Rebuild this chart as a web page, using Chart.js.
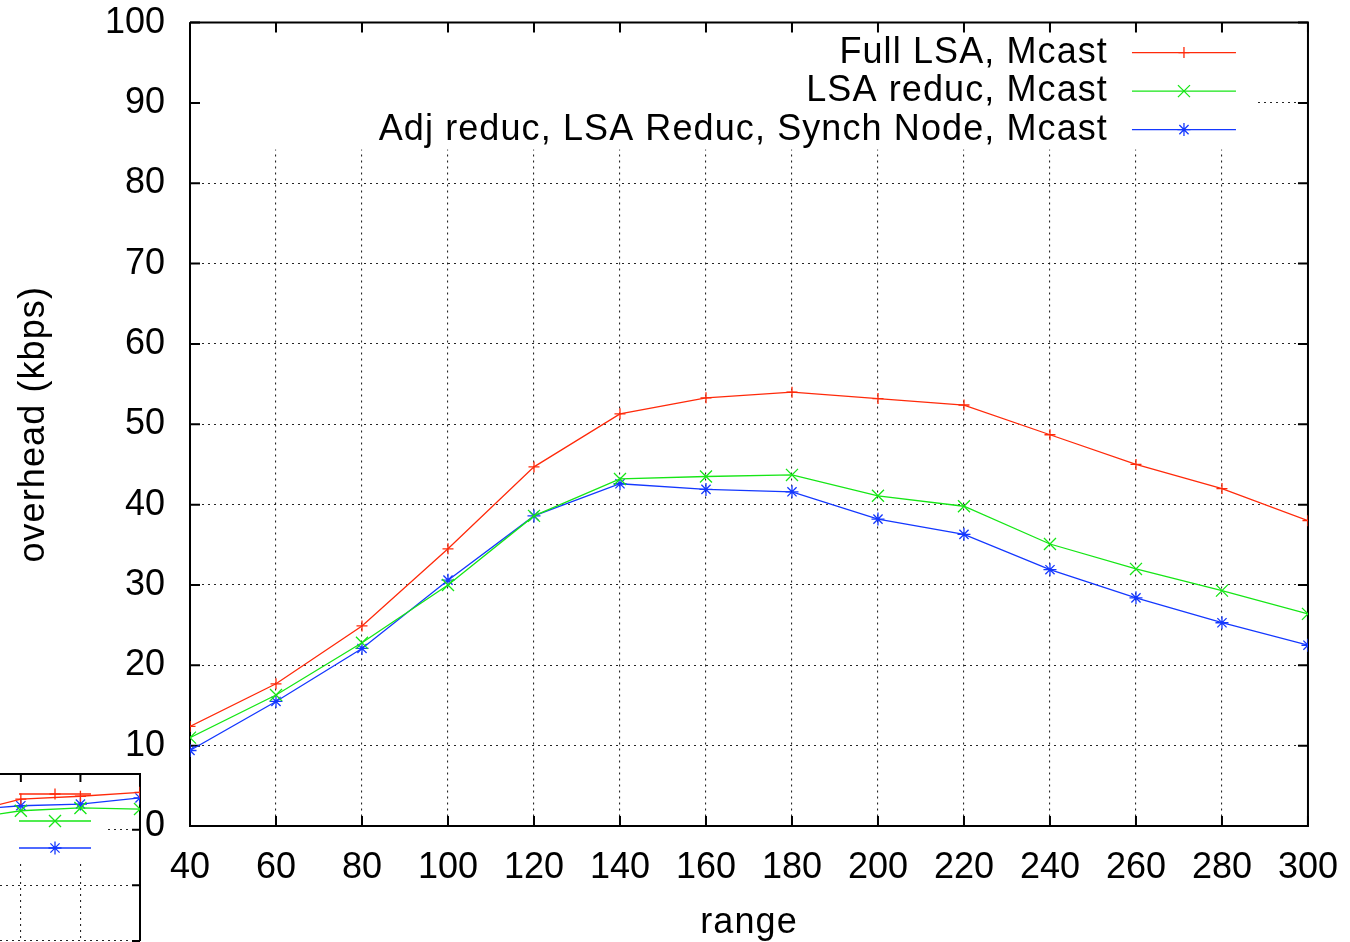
<!DOCTYPE html>
<html>
<head>
<meta charset="utf-8">
<script src="https://cdn.jsdelivr.net/npm/chart.js@4.4.1/dist/chart.umd.min.js"></script>
<style>
  html, body { margin: 0; padding: 0; background: #fff; }
  #wrap { position: relative; width: 1350px; height: 942px; overflow: hidden; }
  #main { position: absolute; left: 0; top: -24px; }
  #inset { position: absolute; left: 0; top: 772px; background: #fff; }
</style>
</head>
<body>
<div id="wrap">
  <canvas id="main" width="1358" height="966"></canvas>
  <canvas id="inset" width="142" height="170"></canvas>
</div>
<script>
// ---- main chart data ----
const rangeValues = [40, 60, 80, 100, 120, 140, 160, 180, 200, 220, 240, 260, 280, 300];
const fullLsaMcast = [12.4, 17.7, 24.9, 34.5, 44.7, 51.3, 53.3, 54.0, 53.2, 52.4, 48.7, 45.0, 42.0, 38.0];
const lsaReducMcast = [11.0, 16.3, 22.8, 30.0, 38.6, 43.2, 43.5, 43.7, 41.1, 39.8, 35.1, 32.0, 29.3, 26.4];
const adjReducMcast = [9.4, 15.5, 22.1, 30.6, 38.6, 42.6, 41.9, 41.6, 38.2, 36.3, 31.9, 28.4, 25.3, 22.5];
const seriesLabels = ['Full LSA, Mcast', 'LSA reduc, Mcast', 'Adj reduc, LSA Reduc, Synch Node, Mcast'];
const xTitle = 'range';
const yTitle = 'overhead (kbps)';

// ---- inset (cropped fragment of another plot, lower left) data ----
const insetX = [0, 1, 2, 3];
const insetRed = [22.8, 25.5, 26.0, 26.7];
const insetGreen = [21.8, 23.4, 23.9, 23.7];
const insetBlue = [23.5, 24.3, 24.6, 25.7];

const RED = '#ff2a0a', GREEN = '#16e616', BLUE = '#1438ff';
const FONT = "'Liberation Sans', Arial, Helvetica, sans-serif";
const FSIZE = 36;

function pts(xs, ys) { return xs.map((x, i) => ({ x: x, y: ys[i] })); }

function ds(label, data, color, style, radius) {
  return {
    label: label, data: data, borderColor: color, backgroundColor: color,
    borderWidth: 1.3, pointStyle: style, pointRadius: radius, pointBorderWidth: 1.3,
    pointHoverRadius: radius, tension: 0, fill: false
  };
}

// Plugin: opaque key area, frame, inward tics, key, axis titles
function gnuplotDecor(opts) {
  return {
    id: 'gnuplotDecor',
    beforeDatasetsDraw(chart) {
      const ctx = chart.ctx, a = chart.chartArea;
      const xs = chart.scales.x, ys = chart.scales.y;
      ctx.save();
      ctx.fillStyle = '#fff';
      const m = opts.mask(a);
      ctx.fillRect(m.x1, m.y1, m.x2 - m.x1, m.y2 - m.y1);
      ctx.strokeStyle = '#000';
      ctx.lineWidth = opts.ticW;
      ctx.beginPath();
      xs.ticks.forEach(t => {
        const px = xs.getPixelForValue(t.value);
        if (opts.sides.bottom) { ctx.moveTo(px, a.bottom); ctx.lineTo(px, a.bottom - opts.ticLen); }
        ctx.moveTo(px, a.top); ctx.lineTo(px, a.top + opts.ticLen);
      });
      ys.ticks.forEach(t => {
        const py = ys.getPixelForValue(t.value);
        if (opts.sides.left) { ctx.moveTo(a.left, py); ctx.lineTo(a.left + opts.ticLen, py); }
        ctx.moveTo(a.right, py); ctx.lineTo(a.right - opts.ticLen, py);
      });
      ctx.stroke();
      ctx.lineWidth = opts.frameW;
      ctx.beginPath();
      ctx.moveTo(a.left, a.top); ctx.lineTo(a.right, a.top); ctx.lineTo(a.right, a.bottom);
      if (opts.sides.bottom) ctx.lineTo(a.left, a.bottom);
      if (opts.sides.left) ctx.lineTo(a.left, a.top);
      ctx.stroke();
      ctx.restore();
    },
    afterDatasetsDraw(chart) {
      const ctx = chart.ctx, a = chart.chartArea;
      ctx.save();
      chart.data.datasets.forEach((d, i) => {
        const k = opts.key(a, i);
        if (opts.showText) {
          ctx.fillStyle = '#000';
          ctx.font = opts.keyFont;
          ctx.letterSpacing = opts.spacing;
          ctx.textAlign = 'right';
          ctx.textBaseline = 'middle';
          ctx.fillText(d.label, k.textX, k.y);
          ctx.letterSpacing = '0px';
        }
        ctx.strokeStyle = d.borderColor;
        ctx.lineWidth = d.borderWidth;
        ctx.beginPath();
        ctx.moveTo(k.x1, k.y); ctx.lineTo(k.x2, k.y);
        ctx.stroke();
        ctx.lineWidth = d.pointBorderWidth;
        ctx.fillStyle = d.borderColor;
        Chart.helpers.drawPoint(ctx, { pointStyle: d.pointStyle, radius: d.pointRadius, rotation: 0, borderWidth: d.pointBorderWidth }, (k.x1 + k.x2) / 2, k.y);
      });
      if (opts.titles) {
        ctx.fillStyle = '#000';
        ctx.font = opts.keyFont;
        ctx.letterSpacing = opts.spacing;
        ctx.textBaseline = 'alphabetic';
        ctx.textAlign = 'center';
        ctx.fillText(opts.titles.x, (a.left + a.right) / 2, chart.height - 9);
        ctx.translate(44, (a.top + a.bottom) / 2);
        ctx.rotate(-Math.PI / 2);
        ctx.fillText(opts.titles.y, 0, 0);
        ctx.letterSpacing = '0px';
      }
      ctx.restore();
    }
  };
}

const gridOpts = { color: 'rgba(0,0,0,0.85)', lineWidth: 1.1, drawTicks: false };

new Chart(document.getElementById('main'), {
  type: 'line',
  data: {
    datasets: [
      ds(seriesLabels[0], pts(rangeValues, fullLsaMcast), RED, 'cross', 5.5),
      ds(seriesLabels[1], pts(rangeValues, lsaReducMcast), GREEN, 'crossRot', 8.5),
      ds(seriesLabels[2], pts(rangeValues, adjReducMcast), BLUE, 'star', 6.5)
    ]
  },
  options: {
    responsive: false, animation: false, devicePixelRatio: 1,
    layout: { autoPadding: false, padding: { top: 0, right: 0, left: 0, bottom: 0 } },
    plugins: { legend: { display: false }, tooltip: { enabled: false } },
    scales: {
      x: {
        type: 'linear', min: 40, max: 300,
        ticks: { stepSize: 20, color: '#000', padding: 20, font: { family: FONT, size: FSIZE }, maxRotation: 0 },
        grid: Object.assign({}, gridOpts),
        border: { display: false, dash: [2, 4] },
        title: { display: false, text: xTitle },
        afterFit(s) { s.height = 116; }
      },
      y: {
        type: 'linear', min: 0, max: 100,
        ticks: { stepSize: 10, color: '#000', padding: 25, font: { family: FONT, size: FSIZE } },
        grid: Object.assign({}, gridOpts),
        border: { display: false, dash: [2, 4] },
        title: { display: false, text: yTitle },
        afterFit(s) { s.width = 190; }
      }
    }
  },
  plugins: [gnuplotDecor({
    ticW: 2, ticLen: 10, frameW: 2, showText: true, keyFont: FSIZE + 'px ' + FONT, spacing: '1.1px',
    sides: { left: true, bottom: true },
    titles: { x: xTitle, y: yTitle },
    mask: a => ({ x1: a.left + 12, y1: a.top + 2, x2: a.right - 50, y2: a.top + 127 }),
    key: (a, i) => ({ textX: a.right - 200, x1: a.right - 176, x2: a.right - 72, y: a.top + 30 + i * 38.5 })
  })]
});

new Chart(document.getElementById('inset'), {
  type: 'line',
  data: {
    datasets: [
      ds('a', pts(insetX, insetRed), RED, 'cross', 5.5),
      ds('b', pts(insetX, insetGreen), GREEN, 'crossRot', 8.5),
      ds('c', pts(insetX, insetBlue), BLUE, 'star', 6.5)
    ]
  },
  options: {
    responsive: false, animation: false, devicePixelRatio: 1,
    layout: { autoPadding: false, padding: { top: 2, right: 2, left: 0, bottom: 1 } },
    plugins: { legend: { display: false }, tooltip: { enabled: false } },
    scales: {
      x: {
        type: 'linear', min: 0.65, max: 3,
        afterBuildTicks(s) { s.ticks = [{ value: 1 }, { value: 2 }]; },
        ticks: { display: false },
        grid: Object.assign({}, gridOpts),
        border: { display: false, dash: [2, 4] },
        afterFit(s) { s.height = 0; }
      },
      y: {
        type: 'linear', min: 0, max: 30,
        afterBuildTicks(s) { s.ticks = [{ value: 0 }, { value: 10 }, { value: 20 }]; },
        ticks: { display: false },
        grid: Object.assign({}, gridOpts),
        border: { display: false, dash: [2, 4] },
        afterFit(s) { s.width = 0; }
      }
    }
  },
  plugins: [gnuplotDecor({
    ticW: 2, ticLen: 8, frameW: 2, showText: false, keyFont: FSIZE + 'px ' + FONT, spacing: '0px',
    sides: { left: false, bottom: false },
    mask: a => ({ x1: a.left, y1: a.top + 2, x2: a.right - 35, y2: a.top + 89 }),
    key: (a, i) => ({ x1: a.left + 19, x2: a.left + 91, y: a.top + 20 + i * 27 })
  })]
});
</script>
</body>
</html>
